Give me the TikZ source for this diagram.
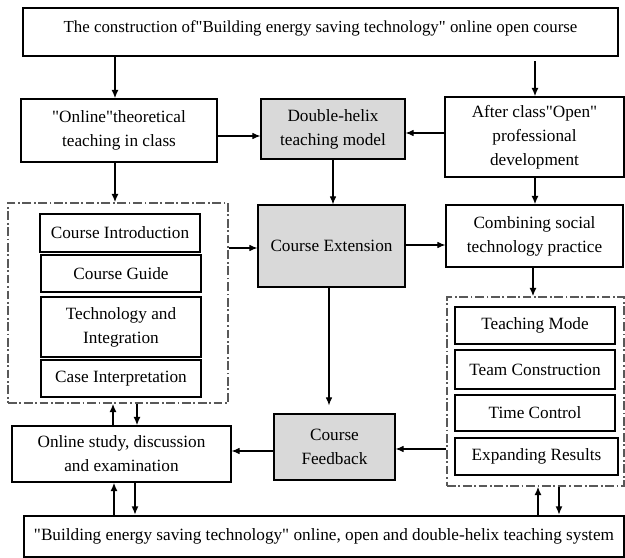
\documentclass[tikz,border=0pt]{standalone}
\usepackage{fontspec}
\setmainfont{Liberation Serif}[Ligatures=TeXOff]
\usepackage{xcolor}
\usetikzlibrary{arrows.meta,positioning}
\definecolor{boxgray}{RGB}{217,217,217}

\begin{document}
\begin{tikzpicture}[x=0.2mm, y=-0.2mm, font=\fontsize{9.8}{13.7}\selectfont]
	\useasboundingbox (0,0) rectangle (625,558);
	\tikzset{
		box/.style={draw, line width=0.6pt, align=center, inner sep=1pt},
		graybox/.style={box, fill=boxgray},
		bigbox/.style={draw, line width=1.3pt, align=center, inner sep=1pt},
		group/.style={draw=gray!70!black, line width=0.7pt, dash pattern=on 5pt off 1.5pt on 1pt off 1.5pt},
		flow/.style={-{Latex[length=1.6mm,width=1.3mm]}, line width=0.6pt},
		flowthick/.style={-{Latex[length=1.7mm,width=1.4mm]}, line width=1.3pt}
	}
	
	% ---- khung nhóm (vẽ trước) ----
	\node[group, minimum width=44mm, minimum height=40mm] (leftgrp) at (118,303) {};
	\node[group, minimum width=35.4mm, minimum height=37.8mm] (rightgrp) at (535.5,391.5) {};
	
	% ---- các hộp chính ----
	\node[bigbox, minimum width=119mm, minimum height=9.6mm, text depth=2.3mm,
		font=\fontsize{9.6}{12}\selectfont] (title) at (320.5,32)
		{The construction of"Building energy saving technology" online open course};
	\node[box, minimum width=39.2mm, minimum height=12.6mm] (online) at (119,130.5)
		{"Online"theoretical\\teaching in class};
	\node[graybox, minimum width=28.8mm, minimum height=12mm] (helix) at (333,129)
		{Double-helix\\teaching model};
	\node[box, minimum width=35.8mm, minimum height=16mm] (after) at (534.5,137)
		{After class"Open"\\professional\\development};
	\node[graybox, minimum width=29.4mm, minimum height=16.4mm] (ext) at (331.5,246)
		{Course Extension};
	\node[box, minimum width=35.4mm, minimum height=12.4mm] (social) at (534.5,236)
		{Combining social\\technology practice};
	\node[box, minimum width=43.8mm, minimum height=11.2mm] (study) at (121.5,454)
		{Online study, discussion\\and examination};
	\node[graybox, minimum width=24.2mm, minimum height=13.2mm] (feedback) at (334.5,447)
		{Course\\Feedback};
	\node[bigbox, minimum width=120mm, minimum height=8.2mm] (system) at (324,536.5)
		{"Building energy saving technology" online, open and double-helix teaching system};
	
	% ---- hộp con bên trái ----
	\node[box, minimum width=32mm, minimum height=7.6mm] (intro) at (120,233) {Course Introduction};
	\node[box, minimum width=32mm, minimum height=7.4mm] (guide) at (121,273.5) {Course Guide};
	\node[box, minimum width=32mm, minimum height=12mm] (tech) at (121,327) {Technology and\\Integration};
	\node[box, minimum width=32mm, minimum height=7.4mm] (case) at (121,378.5) {Case Interpretation};
	
	% ---- hộp con bên phải ----
	\node[box, minimum width=32mm, minimum height=7.4mm] (mode) at (535,325.5) {Teaching Mode};
	\node[box, minimum width=32mm, minimum height=7.8mm] (team) at (535,369.5) {Team Construction};
	\node[box, minimum width=32mm, minimum height=7.2mm] (time) at (535,413) {Time Control};
	\node[box, minimum width=32.6mm, minimum height=7.4mm] (result) at (536.5,456.5) {Expanding Results};
	
	% ---- tọa độ phụ cho các mũi tên ----
	\coordinate (xL) at (115,0);
	\coordinate (xR) at (535,0);
	\coordinate (xM) at (333,0);
	\coordinate (xF) at (329,0);
	\coordinate (xLu) at (113,0);
	\coordinate (xLd) at (137,0);
	\coordinate (xBu) at (114,0);
	\coordinate (xBd) at (135,0);
	\coordinate (xRu) at (538,0);
	\coordinate (xRd) at (559,0);
	
	% ---- mũi tên dọc ----
	\draw[flowthick] (title.south -| xL) -- (online.north -| xL);
	\draw[flowthick] ([yshift=-0.8mm]title.south -| xR) -- (after.north -| xR);
	\draw[flowthick] (online.south -| xL) -- (leftgrp.north -| xL);
	\draw[flow] (helix.south -| xM) -- (ext.north -| xM);
	\draw[flowthick] (after.south -| xR) -- (social.north -| xR);
	\draw[flowthick] (social.south -| 533,0) -- (rightgrp.north -| 533,0);
	\draw[flow] (ext.south -| xF) -- ([yshift=1.6mm]feedback.north -| xF);
	\draw[flowthick] (study.north -| xLu) -- (leftgrp.south -| xLu);
	\draw[flowthick] (leftgrp.south -| xLd) -- (study.north -| xLd);
	\draw[flowthick] (system.north -| xBu) -- (study.south -| xBu);
	\draw[flowthick] (study.south -| xBd) -- (system.north -| xBd);
	\draw[flowthick] (system.north -| xRu) -- (rightgrp.south -| xRu);
	\draw[flowthick] (rightgrp.south -| xRd) -- (system.north -| xRd);
	
	% ---- mũi tên ngang ----
	\draw[flow] (online.east |- 0,136) -- (helix.west |- 0,136);
	\draw[flow] (after.west |- 0,133) -- (helix.east |- 0,133);
	\draw[flow] (leftgrp.east |- 0,248) -- (ext.west |- 0,248);
	\draw[flow] (ext.east |- 0,245) -- (social.west |- 0,245);
	\draw[flow] (rightgrp.west |- 0,449) -- (feedback.east |- 0,449);
	\draw[flow] (feedback.west |- 0,451) -- (study.east |- 0,451);
\end{tikzpicture}
\end{document}
